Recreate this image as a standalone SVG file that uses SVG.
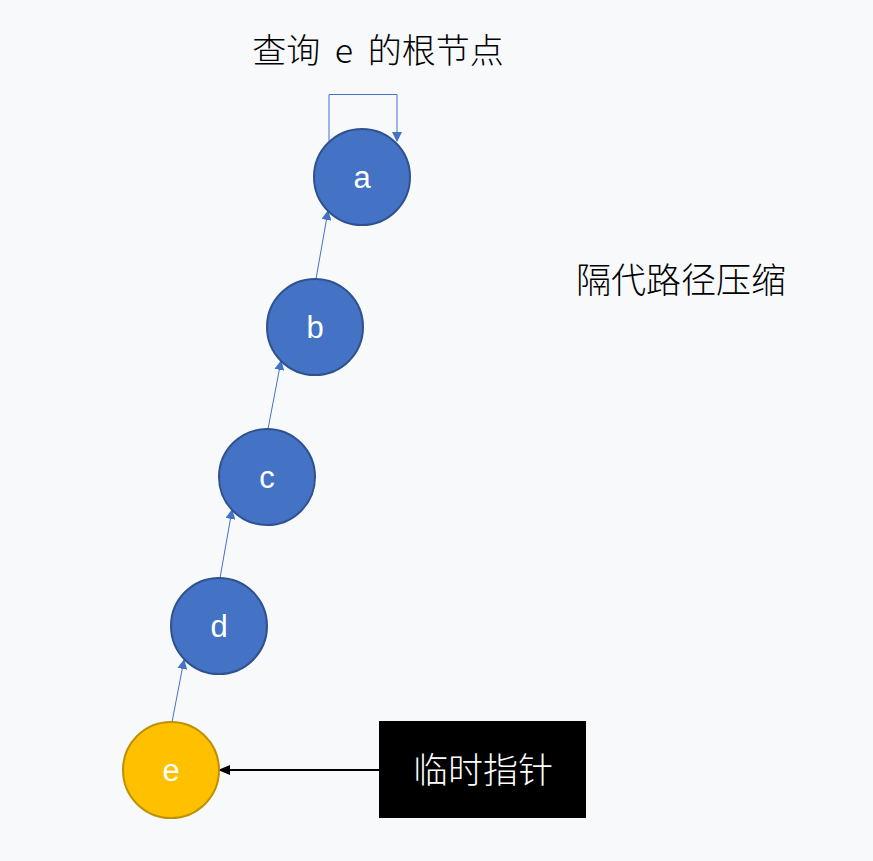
<svg xmlns="http://www.w3.org/2000/svg" width="873" height="861" viewBox="0 0 873 861">
<style>
.n{fill:#4472C4;stroke:#2F528F;stroke-width:2}
.y{fill:#FFC000;stroke:#BF9000;stroke-width:2}
.l{font-family:"Liberation Sans","Noto Sans CJK SC",sans-serif;font-size:31px;fill:#fff;text-anchor:middle}
.t{font-family:"Noto Sans CJK SC",sans-serif;fill:#000}
.e{stroke:#4472C4;stroke-width:1;fill:none}
</style>
<defs>
<marker id="ab" markerWidth="10" markerHeight="10" refX="9" refY="5" orient="auto" markerUnits="userSpaceOnUse"><path d="M0,0 L10,5 L0,10 z" fill="#4472C4"/></marker>
<marker id="ak" markerWidth="12" markerHeight="10" refX="11" refY="5" orient="auto" markerUnits="userSpaceOnUse"><path d="M0,0 L12,5 L0,10 z" fill="#000"/></marker>
</defs>
<rect width="873" height="861" fill="#F8F9FB"/>
<text class="t" x="378" y="63" font-size="34" text-anchor="middle" font-weight="300" word-spacing="7">查询 e 的根节点</text>
<text class="t" x="681" y="293" font-size="35" text-anchor="middle" font-weight="300">隔代路径压缩</text>
<g id="connectors">
<path class="e" d="M329,141 V94.5 H397 V141" marker-end="url(#ab)"/>
<line class="e" x1="316" y1="279" x2="328" y2="211" marker-end="url(#ab)"/>
<line class="e" x1="268" y1="429" x2="281" y2="361" marker-end="url(#ab)"/>
<line class="e" x1="220" y1="578" x2="232" y2="510" marker-end="url(#ab)"/>
<line class="e" x1="172" y1="722" x2="184" y2="660" marker-end="url(#ab)"/>
<line x1="379" y1="770" x2="219" y2="770" stroke="#000" stroke-width="2" marker-end="url(#ak)"/>
</g>
<g id="a"><circle class="n" cx="362" cy="177" r="48"/><text class="l" x="362" y="188">a</text></g>
<g id="b"><circle class="n" cx="315" cy="327" r="48"/><text class="l" x="315" y="338">b</text></g>
<g id="c"><circle class="n" cx="267" cy="477" r="48"/><text class="l" x="267" y="488">c</text></g>
<g id="d"><circle class="n" cx="219" cy="626" r="48"/><text class="l" x="219" y="637">d</text></g>
<g id="e"><circle class="y" cx="171" cy="770" r="48"/><text class="l" x="171" y="781">e</text></g>
<g id="ptr"><rect x="379" y="721" width="207" height="97" fill="#000"/><text class="t" x="483" y="783" font-size="35" text-anchor="middle" font-weight="300" style="fill:#fff">临时指针</text></g>
</svg>
